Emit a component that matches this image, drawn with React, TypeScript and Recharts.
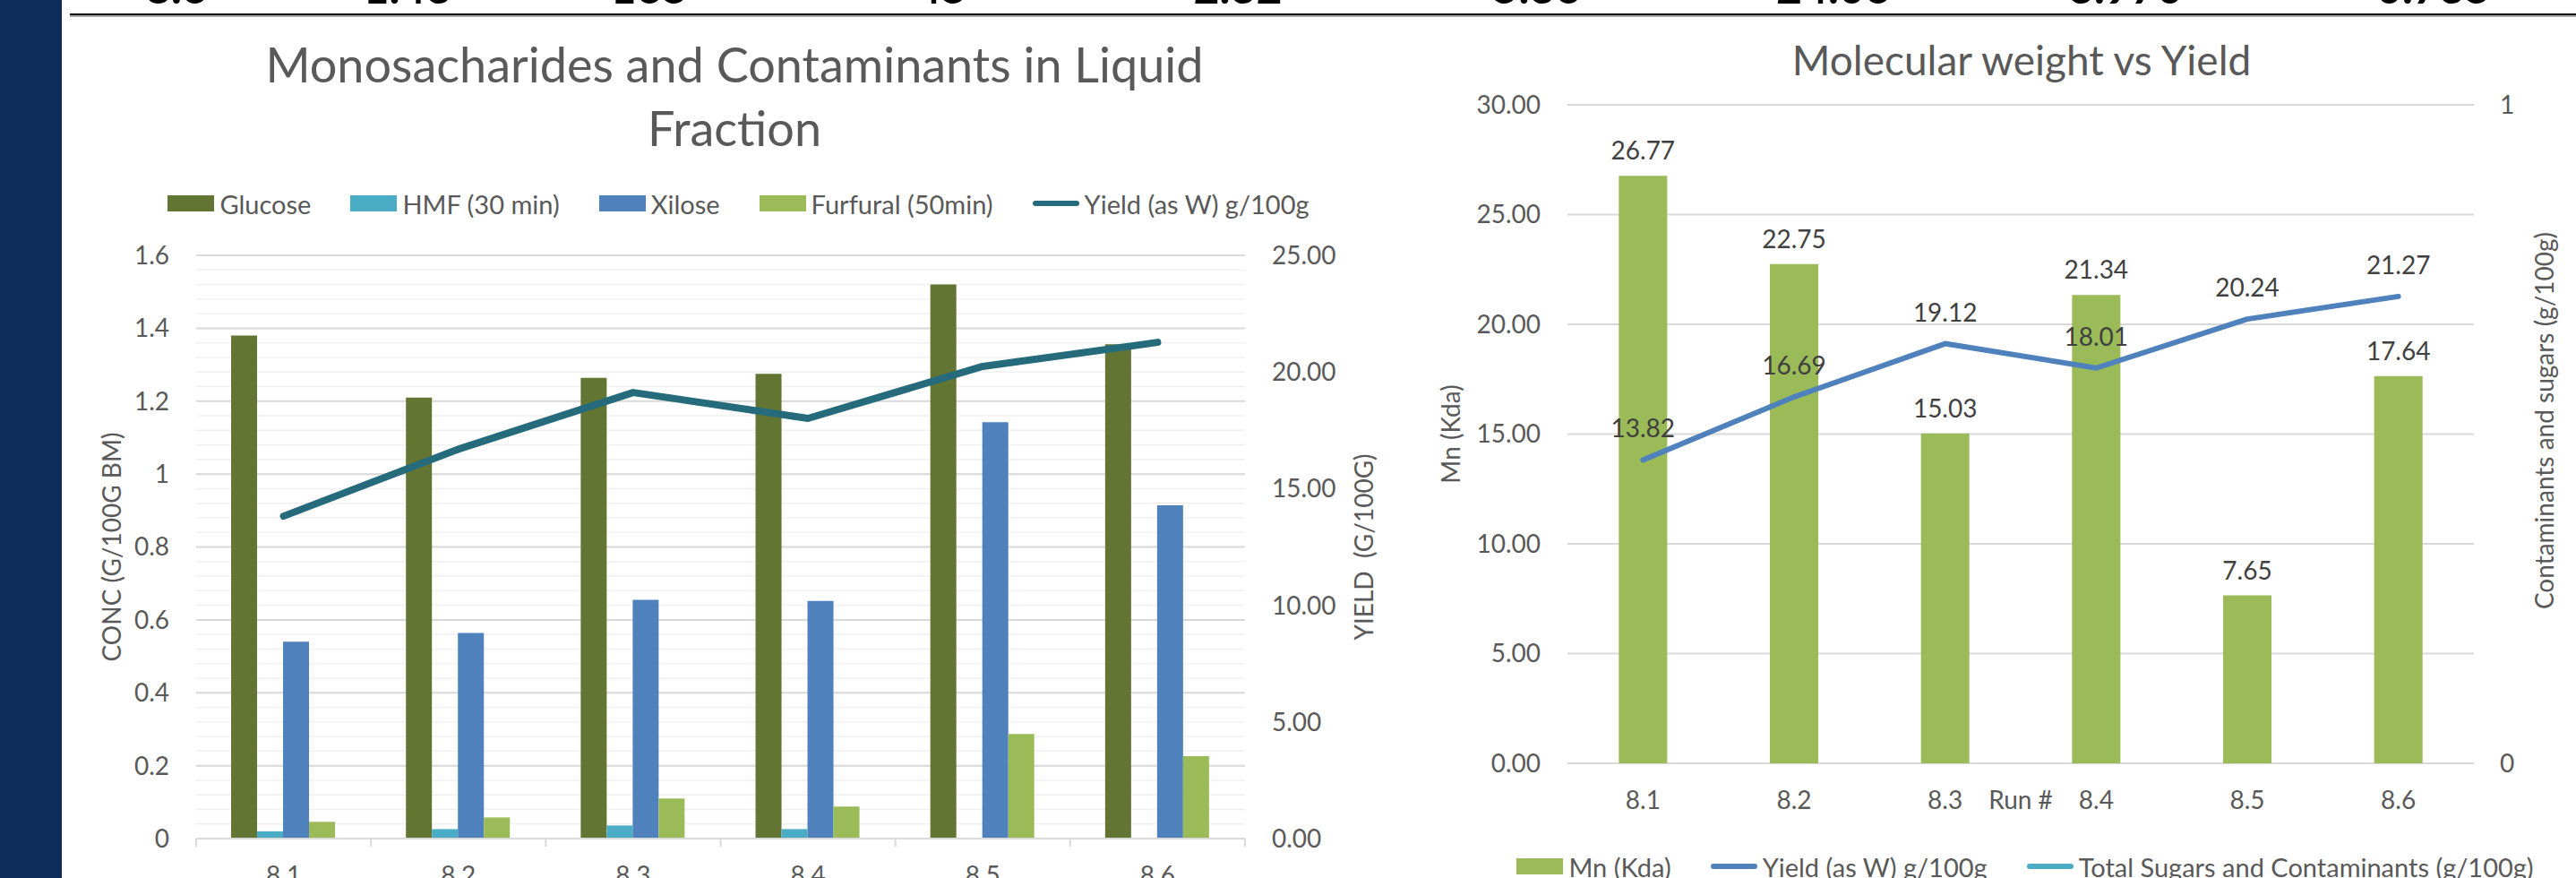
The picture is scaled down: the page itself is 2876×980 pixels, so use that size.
import React from "react";
import {
  ComposedChart,
  Bar,
  Line,
  XAxis,
  YAxis,
  CartesianGrid,
  LabelList,
} from "recharts";

// run numbers shared by both charts
const runs = ["8.1", "8.2", "8.3", "8.4", "8.5", "8.6"];

// left chart, g/100g BM
const glucose = [1.38, 1.21, 1.264, 1.275, 1.52, 1.356];
const hmf = [0.02, 0.026, 0.036, 0.026, 0, 0];
const xilose = [0.54, 0.564, 0.655, 0.652, 1.142, 0.914];
const furfural = [0.046, 0.058, 0.11, 0.088, 0.287, 0.226];
const yieldW = [13.82, 16.69, 19.12, 18.01, 20.24, 21.27];

// right chart
const mn = [26.77, 22.75, 15.03, 21.34, 7.65, 17.64];
const totalSugars = [null, null, null, null, null, null];

const concTicks = [0, 0.2, 0.4, 0.6, 0.8, 1, 1.2, 1.4, 1.6];
const yieldTicks = [0, 5, 10, 15, 20, 25];
const mnTicks = [0, 5, 10, 15, 20, 25, 30];
const sugarTicks = [0, 1];

// last table row peeking in at the top of the slide
const tableRow = ["8.6", "1.43", "165", "45", "2.32", "5.36", "24.06", "3.970", "0.735"];

const FONT = "Lato, 'Open Sans', sans-serif";
const GREY = "#595959";
const GRID = "#d9d9d9";

const leftData = runs.map((run, i) => ({
  run,
  glucose: glucose[i],
  hmf: hmf[i],
  xilose: xilose[i],
  furfural: furfural[i],
  yieldW: yieldW[i],
}));

const rightData = runs.map((run, i) => ({
  run,
  mn: mn[i],
  yieldW: yieldW[i],
  total: totalSugars[i],
}));

const leftLegend = [
  { name: "Glucose", color: "#637532", line: false },
  { name: "HMF (30 min)", color: "#4bacc6", line: false },
  { name: "Xilose", color: "#4f81bd", line: false },
  { name: "Furfural (50min)", color: "#9bbb59", line: false },
  { name: "Yield (as W) g/100g", color: "#266b7b", line: true },
];

const rightLegend = [
  { name: "Mn (Kda)", color: "#9bbb59", line: false },
  { name: "Yield (as W) g/100g", color: "#4f81bd", line: true },
  { name: "Total Sugars and Contaminants (g/100g)", color: "#4bacc6", line: true },
];

// minor gridlines every 0.04 on the concentration axis
const minorConc = Array.from({ length: 41 }, (_, i) => +(i * 0.04).toFixed(2));

const tickStyle = { fill: GREY, fontSize: 28, fontFamily: FONT };

function vTitle(text: string, dx: number, dy = 0) {
  return (props: any) => {
    const { x, y, height } = props.viewBox;
    const cx = x + dx;
    const cy = y + height / 2 + dy;
    return (
      <text
        x={cx}
        y={cy}
        transform={`rotate(-90 ${cx} ${cy})`}
        textAnchor="middle"
        dominantBaseline="central"
        fill={GREY}
        fontSize={28}
        fontFamily={FONT}
        style={{ whiteSpace: "pre" }}
      >
        {text}
      </text>
    );
  };
}

// category labels with tick marks on the band edges
function EdgeTick({ x, y, payload, index }: any) {
  const half = payload.offset ?? 0;
  return (
    <g>
      <line x1={x - half} x2={x - half} y1={y} y2={y + 9} stroke={GRID} strokeWidth={2} />
      {index === runs.length - 1 && (
        <line x1={x + half} x2={x + half} y1={y} y2={y + 9} stroke={GRID} strokeWidth={2} />
      )}
      <text x={x} y={y + 51} textAnchor="middle" {...tickStyle}>
        {payload.value}
      </text>
    </g>
  );
}

function LegendRow({ items, style }: any) {
  return (
    <div
      style={{
        position: "absolute",
        display: "flex",
        justifyContent: "center",
        alignItems: "center",
        gap: 44,
        height: 34,
        fontFamily: FONT,
        fontSize: 29,
        color: GREY,
        whiteSpace: "nowrap",
        ...style,
      }}
    >
      {items.map((it: any) => (
        <div key={it.name} style={{ display: "flex", alignItems: "center", gap: 6 }}>
          <span
            style={{
              display: "inline-block",
              width: 52,
              height: it.line ? 6 : 18,
              borderRadius: it.line ? 3 : 0,
              background: it.color,
            }}
          />
          <span>{it.name}</span>
        </div>
      ))}
    </div>
  );
}

export default function App() {
  return (
    <div
      style={{
        position: "absolute",
        left: 0,
        top: 0,
        width: 2876,
        height: 980,
        overflow: "hidden",
        background: "#fff",
      }}
    >
      <div style={{ position: "absolute", left: 0, top: 0, width: 69, height: 980, background: "#0e2c5a" }} />
      <div style={{ position: "absolute", left: 78, top: 15, width: 2798, height: 2, background: "#111" }} />
      <div style={{ position: "absolute", left: 78, top: 17, width: 2798, height: 2, background: "#a6a6a6" }} />

      <svg style={{ position: "absolute", left: 0, top: 0 }} width={2876} height={180}>
        {tableRow.map((t, i) => (
          <text
            key={i}
            x={[197, 455, 725, 1051, 1382, 1716, 2047, 2373, 2717][i]}
            y={4}
            textAnchor="middle"
            fontFamily={FONT}
            fontWeight={700}
            fontSize={50}
            fill="#000"
          >
            {t}
          </text>
        ))}
        <text x={820} y={92} textAnchor="middle" fontFamily={FONT} fontSize={54} fill={GREY}>
          Monosacharides and Contaminants in Liquid
        </text>
        <text x={820} y={163} textAnchor="middle" fontFamily={FONT} fontSize={54} fill={GREY}>
          Fraction
        </text>
        <text x={2257} y={84} textAnchor="middle" fontFamily={FONT} fontSize={46} fill={GREY}>
          Molecular weight vs Yield
        </text>
      </svg>

      <LegendRow items={leftLegend} style={{ left: 69, width: 1511, top: 210 }} />
      <LegendRow items={rightLegend} style={{ left: 1626, width: 1270, top: 950 }} />

      <div style={{ position: "absolute", left: 69, top: 0 }}>
        <ComposedChart
          width={1511}
          height={980}
          data={leftData}
          margin={{ top: 285, right: 0, bottom: 0, left: 0 }}
          barCategoryGap="20%"
          barGap={0}
        >
          <CartesianGrid
            yAxisId="conc"
            vertical={false}
            horizontalValues={minorConc}
            stroke="#f0f0f0"
            strokeWidth={1.5}
          />
          <CartesianGrid
            yAxisId="conc"
            vertical={false}
            horizontalValues={concTicks}
            stroke={GRID}
            strokeWidth={2}
          />
          <XAxis
            dataKey="run"
            height={44}
            tickLine={false}
            tickSize={0}
            tickMargin={0}
            stroke={GRID}
            strokeWidth={2}
            tick={<EdgeTick />}
            interval={0}
          />
          <YAxis
            yAxisId="conc"
            width={150}
            domain={[0, 1.6]}
            ticks={concTicks}
            interval={0}
            axisLine={false}
            tickLine={false}
            tickMargin={24}
            tick={tickStyle}
            label={{ content: vTitle("CONC (G/100G BM)", 55) }}
          />
          <YAxis
            yAxisId="yield"
            orientation="right"
            width={190}
            domain={[0, 25]}
            ticks={yieldTicks}
            interval={0}
            axisLine={false}
            tickLine={false}
            tickMargin={24}
            tick={{ ...tickStyle, textAnchor: "start" }}
            tickFormatter={(v: number) => v.toFixed(2)}
            label={{ content: vTitle("YIELD  (G/100G)", 132) }}
          />
          <Bar yAxisId="conc" dataKey="glucose" name="Glucose" fill="#637532" isAnimationActive={false} />
          <Bar yAxisId="conc" dataKey="hmf" name="HMF (30 min)" fill="#4bacc6" isAnimationActive={false} />
          <Bar yAxisId="conc" dataKey="xilose" name="Xilose" fill="#4f81bd" isAnimationActive={false} />
          <Bar yAxisId="conc" dataKey="furfural" name="Furfural (50min)" fill="#9bbb59" isAnimationActive={false} />
          <Line
            yAxisId="yield"
            dataKey="yieldW"
            name="Yield (as W) g/100g"
            stroke="#266b7b"
            strokeWidth={8}
            strokeLinecap="round"
            strokeLinejoin="round"
            dot={false}
            activeDot={false}
            isAnimationActive={false}
          />
        </ComposedChart>
      </div>

      <div style={{ position: "absolute", left: 1580, top: 0 }}>
        <ComposedChart
          width={1296}
          height={980}
          data={rightData}
          margin={{ top: 117, right: 0, bottom: 68, left: 0 }}
          barCategoryGap="34%"
        >
          <CartesianGrid yAxisId="mn" vertical={false} horizontalValues={mnTicks} stroke={GRID} strokeWidth={2} />
          <XAxis
            dataKey="run"
            height={60}
            axisLine={false}
            tickLine={false}
            tickMargin={25}
            tick={tickStyle}
            interval={0}
            label={{
              content: (p: any) => (
                <text
                  x={p.viewBox.x + p.viewBox.width / 2}
                  y={p.viewBox.y + 51}
                  textAnchor="middle"
                  {...tickStyle}
                >
                  Run #
                </text>
              ),
            }}
          />
          <YAxis
            yAxisId="mn"
            width={170}
            domain={[0, 30]}
            ticks={mnTicks}
            interval={0}
            axisLine={false}
            tickLine={false}
            tickMargin={24}
            tick={tickStyle}
            tickFormatter={(v: number) => v.toFixed(2)}
            label={{ content: vTitle("Mn (Kda)", 39) }}
          />
          <YAxis
            yAxisId="sugars"
            orientation="right"
            type="number"
            width={114}
            domain={[0, 1]}
            allowDataOverflow
            ticks={sugarTicks}
            interval={0}
            axisLine={false}
            tickLine={false}
            tickMargin={23}
            tick={{ ...tickStyle, textAnchor: "start" }}
            label={{ content: vTitle("Contaminants and sugars (g/100g)", 78, -15) }}
          />
          <Bar yAxisId="mn" dataKey="mn" name="Mn (Kda)" fill="#9bbb59" isAnimationActive={false}>
            <LabelList
              dataKey="mn"
              position="top"
              offset={18}
              formatter={(v: number) => v.toFixed(2)}
              fill="#404040"
              fontSize={28}
              fontFamily={FONT}
            />
          </Bar>
          <Line
            yAxisId="mn"
            dataKey="yieldW"
            name="Yield (as W) g/100g"
            stroke="#4f81bd"
            strokeWidth={6}
            strokeLinecap="round"
            strokeLinejoin="round"
            dot={false}
            activeDot={false}
            isAnimationActive={false}
          >
            <LabelList
              dataKey="yieldW"
              position="top"
              offset={25}
              formatter={(v: number) => v.toFixed(2)}
              fill="#404040"
              fontSize={28}
              fontFamily={FONT}
            />
          </Line>
          <Line
            yAxisId="sugars"
            dataKey="total"
            name="Total Sugars and Contaminants (g/100g)"
            stroke="#4bacc6"
            strokeWidth={6}
            dot={false}
            activeDot={false}
            isAnimationActive={false}
          />
        </ComposedChart>
      </div>
    </div>
  );
}
